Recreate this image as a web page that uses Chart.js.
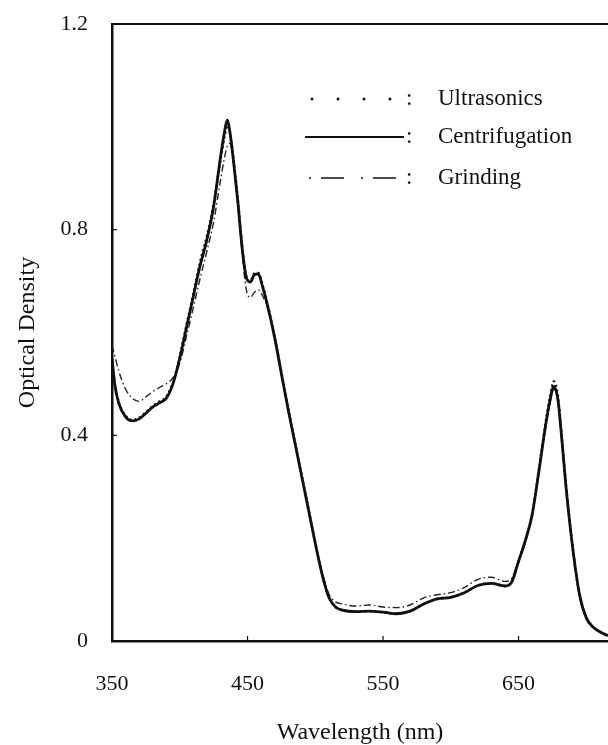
<!DOCTYPE html>
<html>
<head>
<meta charset="utf-8">
<script src="https://cdn.jsdelivr.net/npm/chart.js@4.4.1/dist/chart.umd.min.js"></script>
<style>
  html, body { margin: 0; padding: 0; background: #fff; overflow: hidden; }
</style>
</head>
<body>
<canvas id="spectro" width="608" height="745"></canvas>
<script>
// valores
const wavelength = [350, 352, 355, 360, 365, 370, 375, 380, 385, 390, 395, 400, 405, 410, 415, 420, 425, 430, 433, 435, 437, 440, 443, 446, 449, 452, 455, 458, 461, 465, 470, 475, 480, 485, 490, 495, 500, 505, 510, 515, 520, 530, 540, 550, 560, 570, 580, 590, 600, 610, 620, 630, 640, 645, 650, 655, 660, 665, 670, 673, 676, 679, 682, 685, 690, 695, 700, 705, 710, 716];
const ultrasonics = [0.54, 0.50, 0.465, 0.438, 0.43, 0.434, 0.445, 0.457, 0.466, 0.475, 0.503, 0.553, 0.615, 0.675, 0.737, 0.787, 0.85, 0.935, 0.98, 1.003, 0.99, 0.93, 0.855, 0.77, 0.71, 0.70, 0.715, 0.716, 0.693, 0.652, 0.592, 0.522, 0.452, 0.387, 0.322, 0.257, 0.19, 0.13, 0.085, 0.066, 0.06, 0.057, 0.058, 0.056, 0.053, 0.058, 0.072, 0.082, 0.085, 0.094, 0.108, 0.112, 0.107, 0.115, 0.155, 0.195, 0.247, 0.333, 0.425, 0.472, 0.505, 0.478, 0.393, 0.302, 0.18, 0.09, 0.045, 0.027, 0.018, 0.01];
const centrifugation = [0.55, 0.50, 0.462, 0.436, 0.428, 0.432, 0.443, 0.455, 0.463, 0.472, 0.50, 0.55, 0.61, 0.67, 0.73, 0.78, 0.845, 0.94, 0.99, 1.013, 0.99, 0.925, 0.85, 0.765, 0.708, 0.698, 0.712, 0.714, 0.69, 0.65, 0.59, 0.52, 0.45, 0.385, 0.32, 0.255, 0.19, 0.13, 0.085, 0.066, 0.06, 0.057, 0.058, 0.056, 0.053, 0.058, 0.072, 0.082, 0.085, 0.094, 0.108, 0.112, 0.107, 0.115, 0.155, 0.195, 0.245, 0.33, 0.42, 0.465, 0.495, 0.47, 0.39, 0.30, 0.18, 0.09, 0.045, 0.027, 0.018, 0.01];
const grinding = [0.575, 0.555, 0.525, 0.49, 0.472, 0.466, 0.475, 0.485, 0.493, 0.50, 0.512, 0.54, 0.593, 0.648, 0.705, 0.758, 0.815, 0.895, 0.94, 0.962, 0.968, 0.925, 0.845, 0.755, 0.685, 0.668, 0.678, 0.683, 0.672, 0.645, 0.59, 0.52, 0.45, 0.385, 0.32, 0.255, 0.192, 0.135, 0.092, 0.076, 0.072, 0.068, 0.07, 0.066, 0.065, 0.07, 0.084, 0.09, 0.094, 0.104, 0.12, 0.124, 0.116, 0.122, 0.158, 0.197, 0.245, 0.328, 0.415, 0.46, 0.49, 0.47, 0.392, 0.302, 0.182, 0.092, 0.046, 0.028, 0.019, 0.011];

const xTicks = [350, 450, 550, 650];
const yTicks = [0, 0.4, 0.8, 1.2];
const seriesNames = ['Ultrasonics', 'Centrifugation', 'Grinding'];

const SERIF = "'Liberation Serif', 'DejaVu Serif', serif";

function puntos(valores) {
  return wavelength.map((w, i) => ({ x: w, y: valores[i] }));
}

// marco superior, marcas internas y leyenda dentro del gráfico
const decoracion = {
  id: 'decoracion',
  afterDraw(chart) {
    const { ctx, chartArea, scales } = chart;
    ctx.save();
    ctx.strokeStyle = '#111';
    ctx.lineWidth = 2;
    ctx.beginPath();
    ctx.moveTo(chartArea.left - 1, chartArea.top);
    ctx.lineTo(chartArea.right, chartArea.top);
    ctx.stroke();

    ctx.lineWidth = 1.2;
    xTicks.slice(1).forEach(t => {
      const px = scales.x.getPixelForValue(t);
      ctx.beginPath();
      ctx.moveTo(px, chartArea.bottom);
      ctx.lineTo(px, chartArea.bottom - 5);
      ctx.stroke();
    });
    yTicks.slice(1, -1).forEach(t => {
      const py = scales.y.getPixelForValue(t);
      ctx.beginPath();
      ctx.moveTo(chartArea.left, py);
      ctx.lineTo(chartArea.left + 5, py);
      ctx.stroke();
    });

    // leyenda
    const x0 = chartArea.left + 193;
    const x1 = chartArea.left + 290;
    const colonX = chartArea.left + 294;
    const textX = chartArea.left + 326;
    const filas = [chartArea.top + 75, chartArea.top + 113, chartArea.top + 154];
    ctx.font = '23px ' + SERIF;
    ctx.fillStyle = '#111';
    ctx.textBaseline = 'middle';
    seriesNames.forEach((nombre, i) => {
      const y = filas[i];
      ctx.beginPath();
      if (i === 0) {
        ctx.lineWidth = 3;
        ctx.lineCap = 'round';
        ctx.setLineDash([0, 26]);
        ctx.moveTo(x0 + 7, y);
        ctx.lineTo(x1, y);
      } else if (i === 1) {
        ctx.lineWidth = 2;
        ctx.lineCap = 'butt';
        ctx.setLineDash([]);
        ctx.moveTo(x0, y);
        ctx.lineTo(x1 + 2, y);
      } else {
        ctx.lineWidth = 1.6;
        ctx.lineCap = 'butt';
        ctx.setLineDash([2, 10, 23, 17]);
        ctx.moveTo(x0 + 4, y);
        ctx.lineTo(x1 + 2, y);
      }
      ctx.stroke();
      ctx.setLineDash([]);
      ctx.fillText(':', colonX, y);
      ctx.fillText(nombre, textX, y);
    });
    ctx.restore();
  }
};

const ctx = document.getElementById('spectro').getContext('2d');
new Chart(ctx, {
  type: 'line',
  data: {
    datasets: [
      {
        label: seriesNames[2],
        data: puntos(grinding),
        borderColor: '#222',
        borderWidth: 1.4,
        borderDash: [7, 3, 1.5, 3],
        order: 3
      },
      {
        label: seriesNames[1],
        data: puntos(centrifugation),
        borderColor: '#111',
        borderWidth: 2.8,
        order: 2
      },
      {
        label: seriesNames[0],
        data: puntos(ultrasonics),
        borderColor: '#111',
        borderWidth: 2.4,
        borderDash: [2, 3],
        order: 1
      }
    ]
  },
  options: {
    responsive: false,
    animation: false,
    layout: { padding: { top: 24, right: 0, left: 0, bottom: 0 } },
    elements: {
      point: { radius: 0 },
      line: { cubicInterpolationMode: 'monotone', fill: false }
    },
    plugins: {
      legend: { display: false },
      tooltip: { enabled: false }
    },
    scales: {
      x: {
        type: 'linear',
        min: 350,
        max: 716,
        afterBuildTicks: scale => { scale.ticks = xTicks.map(v => ({ value: v })); },
        afterFit: scale => {
          scale.height = 104;
          scale.paddingLeft = 0;
          scale.paddingRight = 0;
        },
        grid: { display: false, drawTicks: false },
        border: { display: true, color: '#111', width: 2.5 },
        ticks: {
          padding: 30,
          maxRotation: 0,
          color: '#111',
          font: { family: SERIF, size: 22 },
          callback: v => String(v)
        },
        title: {
          display: true,
          text: 'Wavelength (nm)',
          color: '#111',
          font: { family: SERIF, size: 24, lineHeight: 1 },
          padding: { top: 0, bottom: 0 }
        }
      },
      y: {
        min: 0,
        max: 1.2,
        afterBuildTicks: scale => { scale.ticks = yTicks.map(v => ({ value: v })); },
        afterFit: scale => {
          scale.width = 112;
          scale.paddingTop = 0;
          scale.paddingBottom = 0;
        },
        grid: { display: false, drawTicks: false },
        border: { display: true, color: '#111', width: 2.5 },
        ticks: {
          padding: 24,
          color: '#111',
          font: { family: SERIF, size: 22 },
          callback: v => String(v)
        },
        title: {
          display: true,
          text: 'Optical Density',
          color: '#111',
          font: { family: SERIF, size: 24 },
          padding: { top: 13, bottom: 0 }
        }
      }
    }
  },
  plugins: [decoracion]
});
</script>
</body>
</html>
